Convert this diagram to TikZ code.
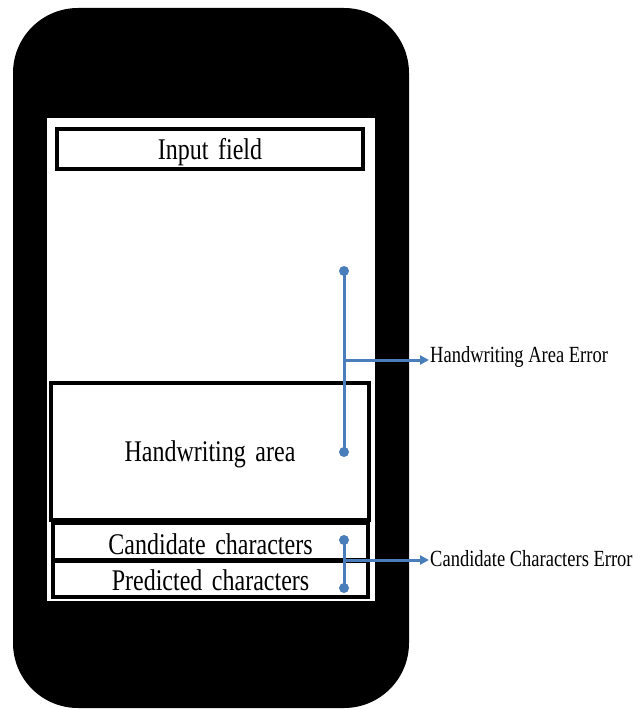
\documentclass[tikz,border=0pt]{standalone}
\usepackage{graphicx}
\usepackage{fontspec}
\setmainfont{Liberation Serif}
\usepackage{tikz}
\usetikzlibrary{arrows.meta}
\definecolor{errblue}{HTML}{4A7EBB}
\newcommand{\tallText}[1]{\scalebox{1}[1.25]{#1}}
\newcommand{\boxText}[2][-3pt]{\raisebox{#1}[\height][\depth]{\scalebox{1}[1.25]{\spaceskip=0.4em\relax #2}}}
\tikzstyle{Box}=[rectangle, draw=black, line width=3.5pt, fill=white, inner sep=0pt, font=\fontsize{24}{24}\selectfont]
\tikzstyle{Dot}=[circle, fill=errblue, inner sep=0pt, minimum size=10pt]
\tikzstyle{ErrLine}=[errblue, line width=3pt]
\tikzstyle{ErrText}=[anchor=west, inner sep=1pt, font=\fontsize{18.5}{18.5}\selectfont]

\begin{document}
\begin{tikzpicture}[x=1pt, y=-1pt]
    \useasboundingbox (0,0) rectangle (637,709);
    \fill[black, rounded corners=65pt] (13,8) rectangle (409,708);
    \fill[white] (47,118) rectangle (375,601);
    \path
    (210,149) node[Box, minimum width=306, minimum height=40] (input) {\boxText{Input field}}
    (210,451.5) node[Box, minimum width=318, minimum height=137] (hwarea) {\boxText{Handwriting area}}
    (210.5,541.5) node[Box, minimum width=315, minimum height=36] (cand) {\boxText{Candidate characters}}
    (210.5,579) node[Box, minimum width=315, minimum height=36] (pred) {\boxText[-1pt]{Predicted characters}};
    \path (344,271) node[Dot] (hwtop) {}
    (344,452) node[Dot] (hwbot) {}
    (344,540) node[Dot] (candtop) {}
    (344,588) node[Dot] (candbot) {};
    \path (429,357) node[ErrText] (hwerr) {\tallText{Handwriting Area Error}}
    (429,559) node[ErrText] (canderr) {\tallText{Candidate Characters Error}};

    \draw[ErrLine] (hwtop.center) -- (hwbot.center);
    \draw[ErrLine] (candtop.center) -- (candbot.center);
    \draw[ErrLine, -{Triangle[length=9pt, width=9pt]}] (hwtop |- 0,360) -- (hwerr.west |- 0,360);
    \draw[ErrLine, -{Triangle[length=9pt, width=9pt]}] (candtop |- 0,560) -- (canderr.west |- 0,560);
\end{tikzpicture}
\end{document}
